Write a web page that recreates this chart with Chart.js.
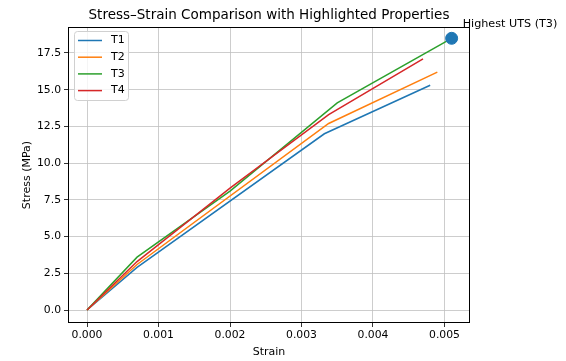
<!DOCTYPE html>
<html>
<head>
<meta charset="utf-8">
<script src="https://cdn.jsdelivr.net/npm/chart.js@4.4.1/dist/chart.umd.min.js"></script>
<style>
  html, body { margin: 0; padding: 0; background: #fff; }
  #wrap { width: 566px; height: 361px; position: relative; }
</style>
</head>
<body>
<div id="wrap"><canvas id="myChart" width="566" height="361"></canvas></div>
<script>
const seriesNames = ['T1', 'T2', 'T3', 'T4'];
const colors = ['#1f77b4', '#ff7f0e', '#2ca02c', '#d62728'];
const strainT1 = [0, 0.0007, 0.00332, 0.0048];
const stressT1 = [0, 2.9, 12.0, 15.3];
const strainT2 = [0, 0.0007, 0.00338, 0.0049];
const stressT2 = [0, 3.1, 12.7, 16.2];
const strainT3 = [0, 0.0007, 0.002, 0.0035, 0.0051];
const stressT3 = [0, 3.6, 8.1, 14.1, 18.5];
const strainT4 = [0, 0.0007, 0.002, 0.00338, 0.0047];
const stressT4 = [0, 3.3, 8.3, 13.3, 17.1];
const highlight = { x: 0.0051, y: 18.5, label: 'Highest UTS (T3)' };

const font = "'DejaVu Sans', sans-serif";
const pairs = (xs, ys) => xs.map((x, i) => ({ x: x, y: ys[i] }));
const strains = [strainT1, strainT2, strainT3, strainT4];
const stresses = [stressT1, stressT2, stressT3, stressT4];

const datasets = seriesNames.map((name, i) => ({
    label: name,
    data: pairs(strains[i], stresses[i]),
    borderColor: colors[i],
    backgroundColor: colors[i],
    borderWidth: 1.5,
    pointRadius: 0,
    showLine: true,
    order: 4 - i
}));
datasets.push({
    label: '_marker',
    data: [{ x: highlight.x, y: highlight.y }],
    backgroundColor: '#1f77b4',
    borderColor: '#1f77b4',
    pointRadius: 6,
    showLine: false,
    order: -1
});

// frame, title, axis labels, legend and annotation drawn like matplotlib
const decor = {
    id: 'decor',
    afterDraw(chart) {
        const ctx = chart.ctx;
        const a = chart.chartArea;
        ctx.save();
        ctx.strokeStyle = '#000';
        ctx.lineWidth = 1;
        ctx.strokeRect(a.left + 0.5, a.top + 0.5, a.right - a.left - 1, a.bottom - a.top - 1);

        ctx.fillStyle = '#000';
        ctx.font = '13.5px ' + font;
        ctx.textAlign = 'center';
        ctx.textBaseline = 'alphabetic';
        ctx.fillText('Stress\u2013Strain Comparison with Highlighted Properties', (a.left + a.right) / 2, 19);

        ctx.font = '11px ' + font;
        ctx.textBaseline = 'middle';
        ctx.fillText('Strain', (a.left + a.right) / 2, 352);
        ctx.save();
        ctx.translate(27, (a.top + a.bottom) / 2);
        ctx.rotate(-Math.PI / 2);
        ctx.fillText('Stress (MPa)', 0, 0);
        ctx.restore();

        const xs = chart.scales.x, ys = chart.scales.y;
        ctx.font = '11.2px ' + font;
        ctx.textAlign = 'left';
        ctx.textBaseline = 'middle';
        ctx.fillText(highlight.label, xs.getPixelForValue(highlight.x) + 11, ys.getPixelForValue(highlight.y) - 14);

        // legend
        const lx = 74, ly = 31, lw = 54, lh = 69;
        ctx.fillStyle = 'rgba(255,255,255,0.8)';
        ctx.strokeStyle = '#d0d0d0';
        ctx.beginPath();
        ctx.roundRect(lx + 0.5, ly + 0.5, lw, lh, 3);
        ctx.fill();
        ctx.stroke();
        ctx.font = '11px ' + font;
        seriesNames.forEach((name, i) => {
            const y = ly + 9.5 + i * 16.7;
            ctx.strokeStyle = colors[i];
            ctx.lineWidth = 1.5;
            ctx.beginPath();
            ctx.moveTo(lx + 4, y);
            ctx.lineTo(lx + 28, y);
            ctx.stroke();
            ctx.fillStyle = '#000';
            ctx.fillText(name, lx + 37, y);
        });
        ctx.restore();
    }
};

const ctx = document.getElementById('myChart').getContext('2d');
new Chart(ctx, {
    type: 'scatter',
    data: { datasets: datasets },
    options: {
        responsive: false,
        animation: false,
        layout: { padding: { top: 27, right: 96, left: 0, bottom: 0 } },
        plugins: { legend: { display: false }, tooltip: { enabled: false } },
        scales: {
            x: {
                type: 'linear',
                min: -0.000266,
                max: 0.005357,
                afterFit: (s) => { s.height = 38; },
                grid: { color: '#c0c0c0', lineWidth: 0.8, tickColor: '#000', tickLength: 4 },
                border: { display: false },
                ticks: {
                    stepSize: 0.001,
                    includeBounds: false,
                    color: '#000',
                    padding: 2,
                    font: { family: font, size: 10.8 },
                    callback: (v) => v.toFixed(3)
                }
            },
            y: {
                min: -0.885,
                max: 19.27,
                afterFit: (s) => { s.width = 68; },
                grid: { color: '#c0c0c0', lineWidth: 0.8, tickColor: '#000', tickLength: 4 },
                border: { display: false },
                ticks: {
                    stepSize: 2.5,
                    includeBounds: false,
                    color: '#000',
                    padding: 3,
                    font: { family: font, size: 10.8 },
                    callback: (v) => v.toFixed(1)
                }
            }
        }
    },
    plugins: [decor]
});
</script>
</body>
</html>
